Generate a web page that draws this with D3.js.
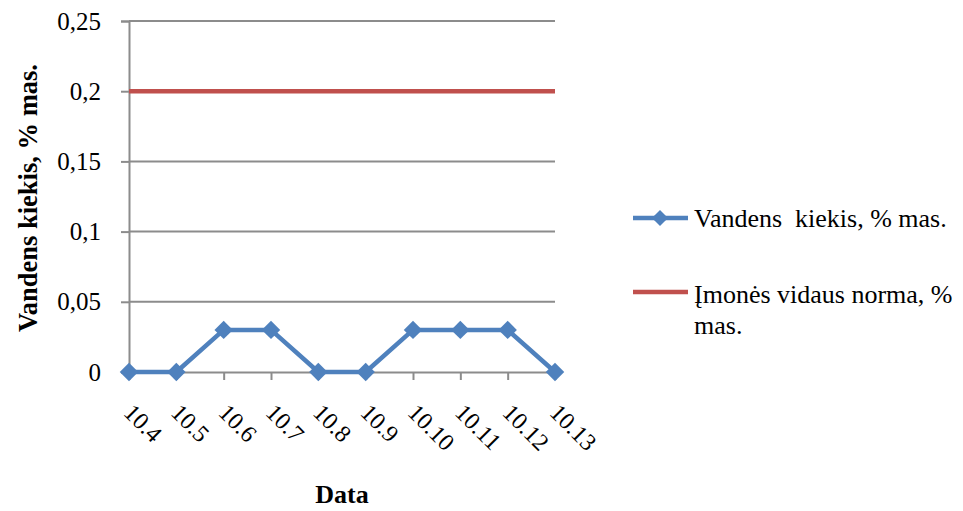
<!DOCTYPE html>
<html>
<head>
<meta charset="utf-8">
<script src="https://cdn.jsdelivr.net/npm/d3@7"></script>
<style>
  html, body { margin: 0; padding: 0; background: #fff; }
  svg text { font-family: "Liberation Serif", "Times New Roman", Times, "DejaVu Serif", serif !important; fill: #000; }
</style>
</head>
<body>
<div id="chart"></div>
<script>
const dates = ['10.4', '10.5', '10.6', '10.7', '10.8', '10.9', '10.10', '10.11', '10.12', '10.13'];
const waterContent = [0, 0, 0.03, 0.03, 0, 0, 0.03, 0.03, 0.03, 0];
const internalNorm = [0.2, 0.2, 0.2, 0.2, 0.2, 0.2, 0.2, 0.2, 0.2, 0.2];
const yTicks = [0, 0.05, 0.1, 0.15, 0.2, 0.25];
const seriesNames = ['Vandens  kiekis, % mas.', 'Įmonės vidaus norma, %', 'mas.'];

(() => {
  const COLORS = {
    water: '#4f81bd',
    norm: '#c0504d',
    grid: '#8c8c8c',
  };
  const width = 963;
  const height = 511;
  const plot = { left: 129, right: 555, top: 21, bottom: 372 };

  const svg = d3.select('#chart').append('svg').attr('width', width).attr('height', height);

  const x = d3.scalePoint().domain(dates).range([plot.left, plot.right]);
  const y = d3.scaleLinear().domain([0, 0.25]).range([plot.bottom, plot.top]);
  const fmt = (v) => String(+v.toFixed(2)).replace('.', ',');

  // gridlines + y axis
  const yAxis = svg.append('g')
    .attr('transform', `translate(${plot.left},0)`)
    .call(d3.axisLeft(y).tickValues(yTicks).tickFormat(fmt).tickSize(8).tickPadding(20));
  yAxis.select('.domain').attr('stroke', COLORS.grid).attr('stroke-width', 2);
  yAxis.selectAll('.tick line').attr('stroke', COLORS.grid).attr('stroke-width', 2);
  yAxis.selectAll('.tick text').attr('font-size', 25);

  svg.append('g')
    .selectAll('line')
    .data(yTicks.filter((v) => v > 0))
    .enter()
    .append('line')
    .attr('x1', plot.left)
    .attr('x2', plot.right)
    .attr('y1', (v) => y(v))
    .attr('y2', (v) => y(v))
    .attr('stroke', COLORS.grid)
    .attr('stroke-width', 2);

  // x axis
  const xAxis = svg.append('g')
    .attr('transform', `translate(0,${plot.bottom})`)
    .call(d3.axisBottom(x).tickSize(8).tickSizeOuter(0));
  xAxis.select('.domain').attr('stroke', COLORS.grid).attr('stroke-width', 2);
  xAxis.selectAll('.tick line').attr('stroke', COLORS.grid).attr('stroke-width', 2);
  xAxis.selectAll('.tick text')
    .attr('font-size', 24)
    .attr('text-anchor', 'start')
    .attr('dy', null)
    .attr('y', null)
    .attr('transform', 'translate(-7,42) rotate(45)');

  // norm line
  const line = d3.line().x((d, i) => x(dates[i])).y((d) => y(d));
  svg.append('path')
    .datum(internalNorm)
    .attr('d', line)
    .attr('fill', 'none')
    .attr('stroke', COLORS.norm)
    .attr('stroke-width', 4.5);

  // water line
  svg.append('path')
    .datum(waterContent)
    .attr('d', line)
    .attr('fill', 'none')
    .attr('stroke', COLORS.water)
    .attr('stroke-width', 4.5)
    .attr('stroke-linejoin', 'round');

  const diamond = d3.symbol().type(d3.symbolSquare).size(170);
  svg.append('g')
    .selectAll('path')
    .data(waterContent)
    .enter()
    .append('path')
    .attr('d', diamond)
    .attr('transform', (d, i) => `translate(${x(dates[i])},${y(d)}) rotate(45)`)
    .attr('fill', COLORS.water);

  // axis titles
  svg.append('text')
    .attr('transform', 'translate(37,198) rotate(-90)')
    .attr('text-anchor', 'middle')
    .attr('font-size', 26.5)
    .attr('font-weight', 'bold')
    .text('Vandens kiekis, % mas.');

  svg.append('text')
    .attr('x', (plot.left + plot.right) / 2)
    .attr('y', 503)
    .attr('text-anchor', 'middle')
    .attr('font-size', 26)
    .attr('font-weight', 'bold')
    .text('Data');

  // legend
  const legend = svg.append('g');
  legend.append('line')
    .attr('x1', 633).attr('x2', 688).attr('y1', 218).attr('y2', 218)
    .attr('stroke', COLORS.water).attr('stroke-width', 4.5);
  legend.append('path')
    .attr('d', d3.symbol().type(d3.symbolSquare).size(130))
    .attr('transform', 'translate(660,218) rotate(45)')
    .attr('fill', COLORS.water);
  legend.append('text')
    .attr('x', 694).attr('y', 227)
    .attr('font-size', 26)
    .style('white-space', 'pre')
    .text(seriesNames[0]);

  legend.append('line')
    .attr('x1', 633).attr('x2', 688).attr('y1', 292).attr('y2', 292)
    .attr('stroke', COLORS.norm).attr('stroke-width', 4.5);
  legend.append('text')
    .attr('x', 694).attr('y', 303)
    .attr('font-size', 26)
    .text(seriesNames[1]);
  legend.append('text')
    .attr('x', 694).attr('y', 334)
    .attr('font-size', 26)
    .text(seriesNames[2]);
})();
</script>
</body>
</html>
